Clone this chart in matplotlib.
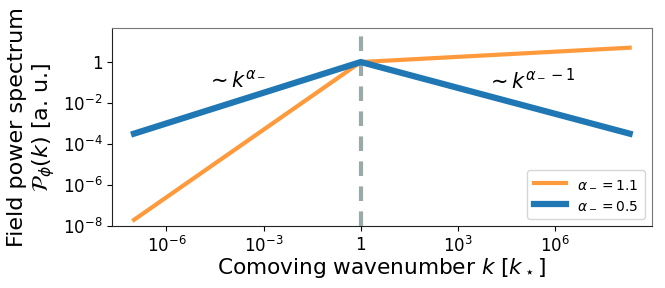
import matplotlib
matplotlib.use("Agg")
import matplotlib.pyplot as plt
from matplotlib.ticker import FixedLocator, NullLocator

# Data (broken power laws through k = 1)
k_points = [1e-7, 1.0, 2e8]
p_alpha_11 = [2e-8, 1.0, 5.0]
p_alpha_05 = [3.2e-4, 1.0, 3.2e-4]
labels = [r"$\alpha_- = 1.1$", r"$\alpha_- = 0.5$"]

x_ticks = [1e-6, 1e-3, 1, 1e3, 1e6]
x_tick_labels = [r"$10^{-6}$", r"$10^{-3}$", "1", r"$10^{3}$", r"$10^{6}$"]
y_ticks = [1e-8, 1e-6, 1e-4, 1e-2, 1]
y_tick_labels = [r"$10^{-8}$", r"$10^{-6}$", r"$10^{-4}$", r"$10^{-2}$", "1"]

fig = plt.figure(figsize=(6.65, 2.88), dpi=100)
ax = fig.add_axes([112/665, 1-226/288, (652-112)/665, (226-28)/288])

ax.axvline(1.0, color="#9aaaa8", lw=3, ls=(0, (3.5, 2.5)), zorder=1)
ax.plot(k_points, p_alpha_11, color="#ff9a3c", lw=3, label=labels[0], zorder=2)
ax.plot(k_points, p_alpha_05, color="#1f77b4", lw=4.5, label=labels[1], zorder=3)

ax.set_xscale("log")
ax.set_yscale("log")
ax.set_xlim(10**-7.68, 10**8.99)
ax.set_ylim(1e-8, 10**1.66)

ax.xaxis.set_major_locator(FixedLocator(x_ticks))
ax.set_xticklabels(x_tick_labels)
ax.yaxis.set_major_locator(FixedLocator(y_ticks))
ax.set_yticklabels(y_tick_labels)
ax.xaxis.set_minor_locator(NullLocator())
ax.yaxis.set_minor_locator(NullLocator())
ax.tick_params(labelsize=12)

ax.set_xlabel(r"Comoving wavenumber $k$ [$k_\star$]", fontsize=15.6, labelpad=0)
ax.set_ylabel("Field power spectrum\n" + r"$\mathcal{P}_\phi(k)$ [a. u.]", fontsize=16, labelpad=4)

ax.text(10**-3.85, 10**-0.9, r"$\sim k^{\alpha_-}$", fontsize=15, ha="center", va="center")
ax.text(10**5.25, 10**-0.9, r"$\sim k^{\alpha_- - 1}$", fontsize=15, ha="center", va="center")

for side in ["top", "right"]:
    ax.spines[side].set_color("#777777")
for side in ["left", "bottom"]:
    ax.spines[side].set_color("#222222")

ax.legend(loc="lower right", fontsize=10, handlelength=2.3, borderpad=0.5)

fig.savefig("out.png", dpi=100)
